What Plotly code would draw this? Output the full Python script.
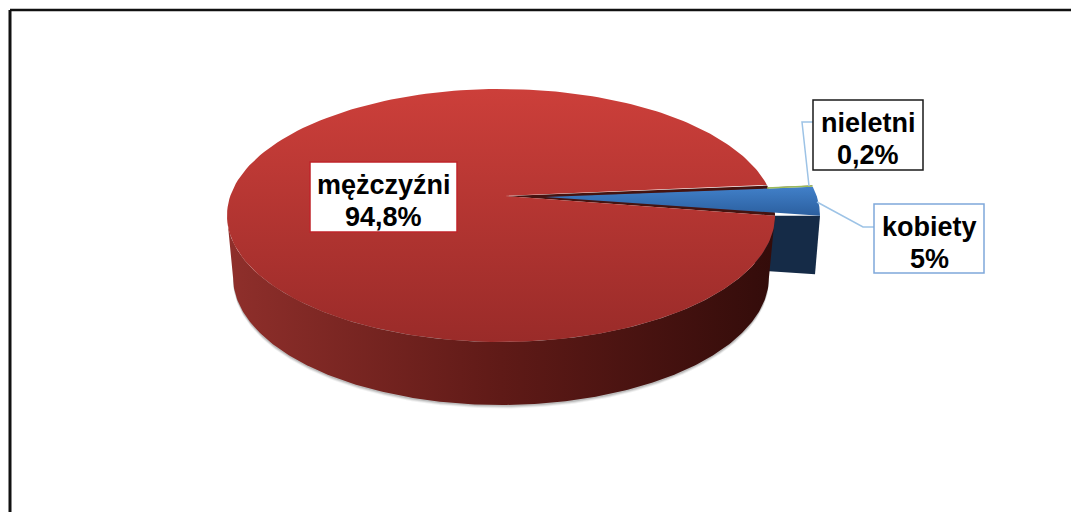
import numpy as np
import plotly.graph_objects as go

# ---- data ----
categories = ["nieletni", "kobiety", "mężczyźni"]
shares = [0.2, 5, 94.8]
share_labels = ["0,2%", "5%", "94,8%"]

# ---- page geometry (pixels) and styles ----
W, H = 1071, 512
CX, CY, RX, RY = 501, 215.5, 274, 126.5  # top face ellipse
BCX, BCY, BRX, BRY = 501, 277, 268, 128  # bottom rim ellipse
RED_APEX = (505, 196)
BLUE_APEX = (545, 197)
DX = 45            # explosion of the small slices
THETA0 = 14.0      # rim angle at which the first slice starts


def rim_angle(phi):
    """Pie angle (clockwise from first slice) -> angle on the tilted ellipse."""
    return THETA0 - (phi - 14.3 * np.sin(np.radians(phi)))


def top_rim(phi, dx=0):
    t = np.radians(rim_angle(phi))
    return CX + dx + RX * np.cos(t), CY - RY * np.sin(t)


def bottom_rim(phi, dx=0):
    t = np.radians(rim_angle(phi))
    return BCX + dx + BRX * np.cos(t), BCY - BRY * np.sin(t)


cum = np.cumsum([0] + shares) * 3.6
spans = dict(zip(categories, zip(cum[:-1], cum[1:])))


def wedge(apex, a, b, dx=0):
    phi = np.linspace(a, b, 240)
    x, y = top_rim(phi, dx)
    return np.r_[apex[0], x, apex[0]], np.r_[apex[1], y, apex[1]]


def ellipse_band(theta_a, theta_b):
    t = np.radians(np.linspace(theta_a, theta_b, 240))
    xt, yt = CX + RX * np.cos(t), CY - RY * np.sin(t)
    xb, yb = BCX + BRX * np.cos(t), BCY - BRY * np.sin(t)
    return np.r_[xt, xb[::-1], xt[0]], np.r_[yt, yb[::-1], yt[0]]


fig = go.Figure()


def poly(x, y, color=None, gradient=None):
    kw = dict(fillgradient=gradient) if gradient else dict(fillcolor=color)
    fig.add_trace(go.Scatter(x=x, y=y, mode="lines", fill="toself",
                             line=dict(width=0, color="rgba(0,0,0,0)"),
                             hoverinfo="skip", showlegend=False, **kw))


# soft shadow under the pie
for off, alpha in [(3.5, 0.08), (2.5, 0.12), (1.5, 0.18)]:
    t = np.radians(np.linspace(180, 360, 200))
    sx = BCX + BRX * np.cos(t)
    sy = BCY - BRY * np.sin(t) + off
    poly(np.r_[sx, sx[0]], np.r_[sy, sy[0]], f"rgba(60,60,60,{alpha})")

# exploded blue slice: side wall
a_k, b_k = spans["kobiety"]
qx, qy = bottom_rim(b_k, DX)
px, py = top_rim(b_k, DX)
poly([px, qx + 1, qx - 60, px - 60, px], [py, qy - 3, qy - 7, py, py], "#152b47")

# inner dark wall of the main slice
a_m, b_m = spans["mężczyźni"]
x, y = wedge(RED_APEX, 0, a_m)
poly(x, y, "#451310")

# blue top face
x, y = wedge(BLUE_APEX, a_k, b_k, DX)
poly(x, y, gradient=dict(type="vertical",
                         colorscale=[[0, "#2b5f9f"], [1, "#4180c9"]]))

# thin "nieletni" slice: only its outer part is visible in the reference
a_n, b_n = spans["nieletni"]
x, y = wedge(BLUE_APEX, a_n, b_n, DX)
poly(x, y, "#451310")
rx_n, ry_n = top_rim(b_n, DX)
OUTER = 0.83
fig.add_trace(go.Scatter(
    x=[BLUE_APEX[0] + OUTER * (rx_n - BLUE_APEX[0]), rx_n],
    y=[BLUE_APEX[1] + OUTER * (ry_n - BLUE_APEX[1]), ry_n],
    mode="lines", line=dict(color="#9bbb59", width=1.5),
    hoverinfo="skip", showlegend=False))

# red side wall
x, y = ellipse_band(180, 360)
poly(x, y, gradient=dict(type="horizontal",
                         colorscale=[[0, "#8f2f2b"], [0.5, "#5f1a17"], [1, "#330c0a"]]))

# red top face
x, y = wedge(RED_APEX, a_m, b_m)
poly(x, y, gradient=dict(type="vertical",
                         colorscale=[[0, "#9a2b29"], [1, "#cc3f3a"]]))

# leader lines
LEADER = "#9dc3e6"
fig.add_trace(go.Scatter(x=[813, 802, 809], y=[122, 122, 186], mode="lines",
                         line=dict(color=LEADER, width=1.5), hoverinfo="skip", showlegend=False))
fig.add_trace(go.Scatter(x=[817, 863, 874], y=[202, 227, 227], mode="lines",
                         line=dict(color=LEADER, width=1.5), hoverinfo="skip", showlegend=False))

# labels: box outlines plus two text lines with the reference's tight leading
boxes = {
    "mężczyźni": (310, 162, 457, 232, "#c0252a"),
    "nieletni": (813, 100, 923, 170, "#1a1a1a"),
    "kobiety": (874, 204, 984, 273, "#7fa8da"),
}
LABEL_FONT = dict(family="Liberation Sans, Arial, sans-serif", size=27, color="black")
annotations = []
shapes = []
for name, pct in zip(categories, share_labels):
    x0, y0, x1, y1, col = boxes[name]
    shapes.append(dict(type="rect", x0=x0, x1=x1, y0=y0, y1=y1, xref="x", yref="y",
                       fillcolor="white", line=dict(color=col, width=1.5), layer="above"))
    for text, dy in ((name, 23), (pct, 55)):
        annotations.append(dict(
            x=(x0 + x1) / 2, y=y0 + dy, xref="x", yref="y", text=f"<b>{text}</b>",
            showarrow=False, xanchor="center", yanchor="middle", font=LABEL_FONT,
        ))

# outer frame: only the top and left edges are inside the picture
shapes += [
    dict(type="line", x0=10, x1=W, y0=10, y1=10, xref="x", yref="y",
         line=dict(color="#111111", width=2.5)),
    dict(type="line", x0=10, x1=10, y0=10, y1=H, xref="x", yref="y",
         line=dict(color="#111111", width=3)),
]

fig.update_layout(
    width=W, height=H, margin=dict(l=0, r=0, t=0, b=0),
    paper_bgcolor="white", plot_bgcolor="white", showlegend=False,
    xaxis=dict(range=[0, W], visible=False, fixedrange=True),
    yaxis=dict(range=[H, 0], visible=False, fixedrange=True),
    annotations=annotations, shapes=shapes,
)
fig.write_html("out.html", config=dict(displayModeBar=False),
               post_script="document.body.style.margin='0';document.body.style.overflow='hidden';")
